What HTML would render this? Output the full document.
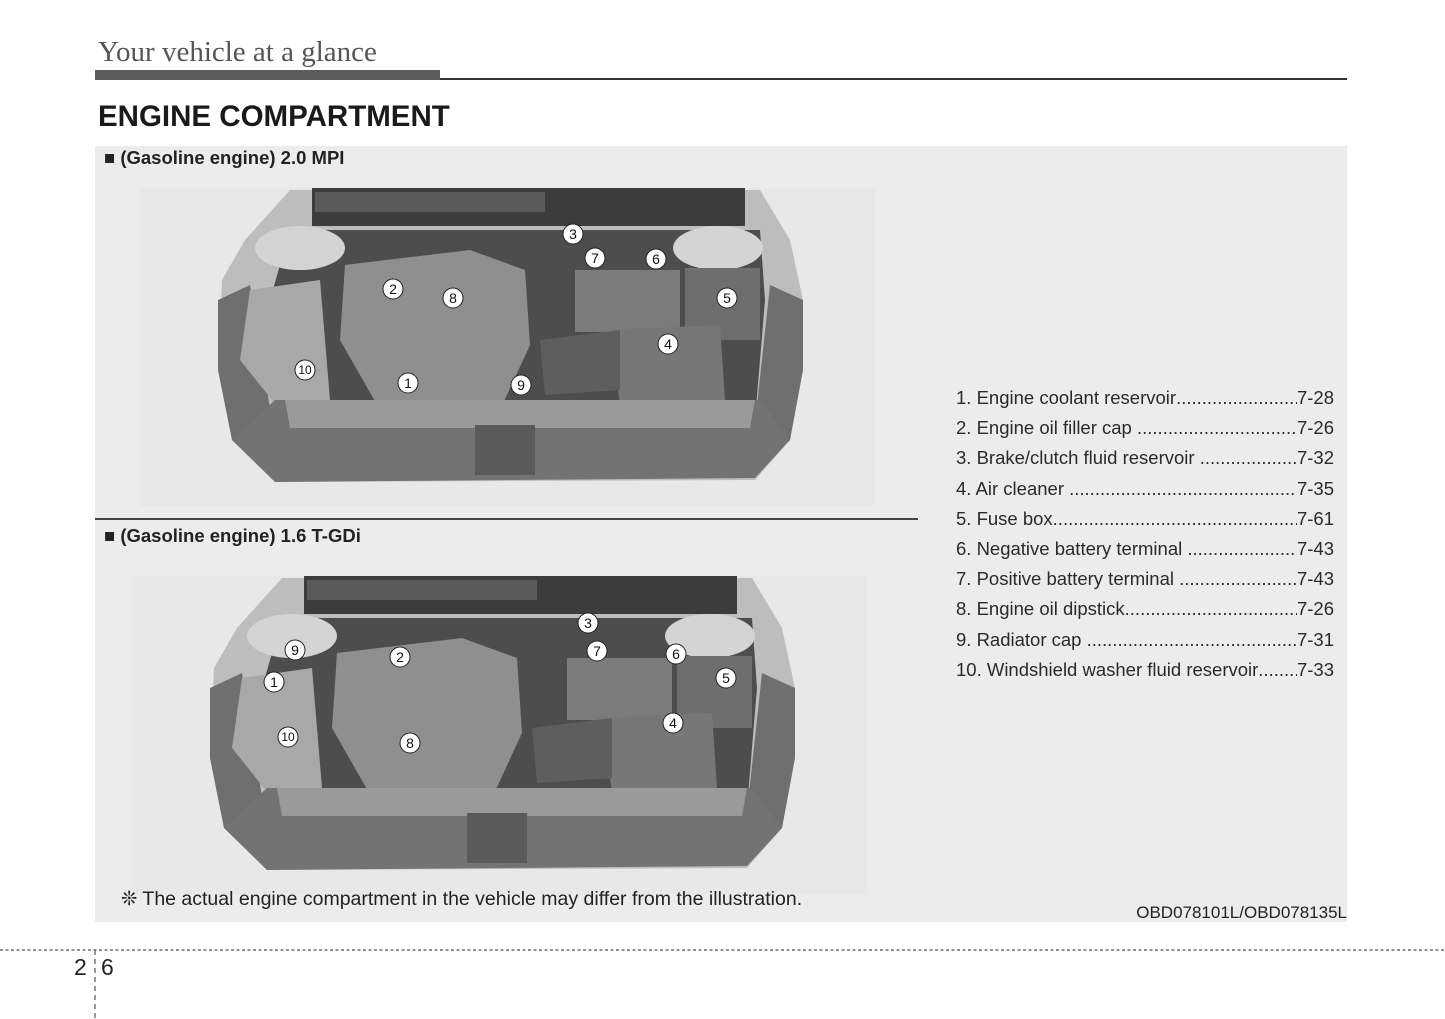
<!DOCTYPE html>
<html><head><meta charset="utf-8"><style>
body{margin:0;width:1445px;height:1019px;background:#fff;position:relative;overflow:hidden;font-family:"Liberation Sans",sans-serif;color:#222}
.a{position:absolute;white-space:nowrap}
.list{position:absolute;left:956px;top:386px;width:378px;font-size:18.5px;color:#2a2a2a}
.row{display:flex;height:30.2px;line-height:24px;overflow:hidden}
.row .f{flex:1;overflow:hidden;white-space:nowrap}
.row .f::after{content:"........................................................................................................................"}
</style></head><body>
<div class="a" style="left:98px;top:36px;font-family:'Liberation Serif',serif;font-size:29px;color:#555">Your vehicle at a glance</div>
<div class="a" style="left:95px;top:70px;width:345px;height:10px;background:#5c5c5e"></div>
<div class="a" style="left:440px;top:78px;width:907px;height:2px;background:#333"></div>
<div class="a" style="left:98px;top:100px;font-size:29.5px;font-weight:bold;color:#1a1a1a">ENGINE COMPARTMENT</div>
<div class="a" style="left:95px;top:146px;width:1252px;height:776px;background:#ececec"></div>
<div class="a" style="left:95px;top:518px;width:823px;height:1.5px;background:#444"></div>
<div class="a" style="left:104px;top:147px;font-size:18.5px;font-weight:bold;color:#222">■ (Gasoline engine) 2.0 MPI</div>
<div class="a" style="left:104px;top:525px;font-size:18.5px;font-weight:bold;color:#222">■ (Gasoline engine) 1.6 T-GDi</div>

<svg class="a" style="left:0;top:0" width="1445" height="1019" viewBox="0 0 1445 1019">
<defs>
<g id="eng">
<rect x="140" y="188" width="735" height="318" fill="#e8e8e8"/>
<polygon points="222,280 245,240 290,190 760,190 790,240 803,300 803,370 790,440 755,480 275,482 232,440 218,370" fill="#bdbdbd"/>
<polygon points="218,300 250,285 280,470 232,440 218,370" fill="#6f6f6f"/>
<polygon points="803,300 770,285 750,470 790,440 803,370" fill="#6f6f6f"/>
<polygon points="290,230 760,230 765,300 755,420 280,420 270,300" fill="#4d4d4d"/>
<rect x="312" y="188" width="433" height="38" fill="#3c3c3c"/>
<rect x="315" y="192" width="230" height="20" fill="#5a5a5a"/>
<ellipse cx="300" cy="248" rx="45" ry="22" fill="#d4d4d4"/>
<ellipse cx="718" cy="248" rx="45" ry="22" fill="#d4d4d4"/>
<polygon points="250,290 320,280 330,400 280,410 240,360" fill="#a8a8a8"/>
<polygon points="345,265 470,250 525,270 530,345 500,410 380,410 340,340" fill="#8f8f8f"/>
<rect x="575" y="270" width="105" height="62" fill="#7b7b7b"/>
<rect x="685" y="268" width="75" height="72" fill="#6e6e6e"/>
<polygon points="610,330 720,325 725,400 620,405" fill="#777"/>
<polygon points="540,340 620,330 620,390 545,395" fill="#5e5e5e"/>
<polygon points="275,400 760,400 790,440 755,478 275,482 232,440" fill="#737373"/>
<polygon points="285,400 755,400 750,428 290,428" fill="#9a9a9a"/>
<rect x="475" y="425" width="60" height="50" fill="#5a5a5a"/>
</g>
<g id="c"><circle r="10" fill="#fff" stroke="#222" stroke-width="1"/></g>
</defs>
<use href="#eng"/>
<use href="#eng" transform="translate(-8,388)"/>
<g font-family="Liberation Sans, sans-serif" font-size="14" text-anchor="middle" fill="#111">
<g transform="translate(408,383)"><use href="#c"/><text y="5">1</text></g>
<g transform="translate(393,289)"><use href="#c"/><text y="5">2</text></g>
<g transform="translate(573,234)"><use href="#c"/><text y="5">3</text></g>
<g transform="translate(668,344)"><use href="#c"/><text y="5">4</text></g>
<g transform="translate(727,298)"><use href="#c"/><text y="5">5</text></g>
<g transform="translate(656,259)"><use href="#c"/><text y="5">6</text></g>
<g transform="translate(595,258)"><use href="#c"/><text y="5">7</text></g>
<g transform="translate(453,298)"><use href="#c"/><text y="5">8</text></g>
<g transform="translate(521,385)"><use href="#c"/><text y="5">9</text></g>
<g transform="translate(305,370)"><use href="#c"/><text y="4" font-size="12">10</text></g>
<g transform="translate(274,682)"><use href="#c"/><text y="5">1</text></g>
<g transform="translate(400,657)"><use href="#c"/><text y="5">2</text></g>
<g transform="translate(588,623)"><use href="#c"/><text y="5">3</text></g>
<g transform="translate(673,723)"><use href="#c"/><text y="5">4</text></g>
<g transform="translate(726,678)"><use href="#c"/><text y="5">5</text></g>
<g transform="translate(676,654)"><use href="#c"/><text y="5">6</text></g>
<g transform="translate(597,651)"><use href="#c"/><text y="5">7</text></g>
<g transform="translate(410,743)"><use href="#c"/><text y="5">8</text></g>
<g transform="translate(295,650)"><use href="#c"/><text y="5">9</text></g>
<g transform="translate(288,737)"><use href="#c"/><text y="4" font-size="12">10</text></g>
</g>
<line x1="0" y1="950" x2="1445" y2="950" stroke="#555" stroke-width="1.2" stroke-dasharray="3,2.5"/>
<line x1="95" y1="950" x2="95" y2="1019" stroke="#555" stroke-width="1.2" stroke-dasharray="5,4"/>
</svg>

<div class="list">
<div class="row"><span>1. Engine coolant reservoir</span><span class="f"></span><span>7-28</span></div>
<div class="row"><span>2. Engine oil filler cap&nbsp;</span><span class="f"></span><span>7-26</span></div>
<div class="row"><span>3. Brake/clutch fluid reservoir&nbsp;</span><span class="f"></span><span>7-32</span></div>
<div class="row"><span>4. Air cleaner&nbsp;</span><span class="f"></span><span>7-35</span></div>
<div class="row"><span>5. Fuse box</span><span class="f"></span><span>7-61</span></div>
<div class="row"><span>6. Negative battery terminal&nbsp;</span><span class="f"></span><span>7-43</span></div>
<div class="row"><span>7. Positive battery terminal&nbsp;</span><span class="f"></span><span>7-43</span></div>
<div class="row"><span>8. Engine oil dipstick</span><span class="f"></span><span>7-26</span></div>
<div class="row"><span>9. Radiator cap&nbsp;</span><span class="f"></span><span>7-31</span></div>
<div class="row"><span>10. Windshield washer fluid reservoir</span><span class="f"></span><span>7-33</span></div>
</div>

<div class="a" style="left:121px;top:887px;font-size:19.5px;color:#222">❊ The actual engine compartment in the vehicle may differ from the illustration.</div>
<div class="a" style="right:98px;top:903px;font-size:17px;color:#222">OBD078101L/OBD078135L</div>
<div class="a" style="left:74px;top:954px;font-size:23px;color:#222">2</div>
<div class="a" style="left:101px;top:954px;font-size:23px;color:#222">6</div>
</body></html>
